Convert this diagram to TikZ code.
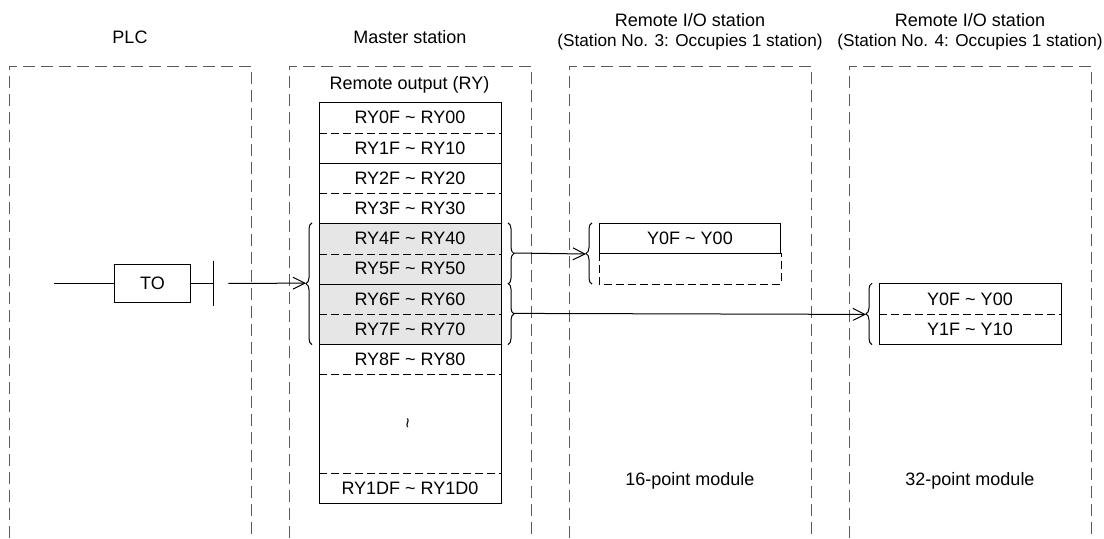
\documentclass[tikz,border=0pt]{standalone}
\usepackage{fontspec}
\setmainfont{Liberation Sans}
\usetikzlibrary{arrows.meta,decorations.pathreplacing}
\definecolor{framegray}{HTML}{5A5A5A}
\definecolor{cellgray}{HTML}{E6E6E6}
\tikzset{
  stationframe/.style={draw=framegray, dash pattern=on 6pt off 3pt},
  headtext/.style={font=\fontsize{9}{11}\selectfont, anchor=base, inner sep=0pt},
  subtext/.style={headtext, font=\fontsize{8.6}{10.5}\selectfont},
  cell/.style={minimum width=90.5pt, minimum height=15.1pt, inner sep=0pt,
               anchor=north west, font=\fontsize{9}{11}\selectfont},
  usedcell/.style={cell, fill=cellgray},
  cellsep/.style={dash pattern=on 4pt off 2pt},
  tobox/.style={draw, minimum width=37.8pt, minimum height=19pt, inner sep=0pt,
                font=\fontsize{9}{11}\selectfont},
  grpbrace/.style={decorate, decoration={brace, amplitude=3pt}},
  link/.style={-{Straight Barb[length=6pt,width=6pt]}},
}

\begin{document}
\begin{tikzpicture}[x=0.5pt, y=-0.5pt, line width=0.5pt]
  \useasboundingbox (0,0) rectangle (1104,538);

  % station frames, open at the bottom
  \draw[stationframe] (9,538) |- (251,66) -- (251,538);
  \draw[stationframe] (289,538) |- (531,66) -- (531,538);
  \draw[stationframe] (569,538) |- (811,66) -- (811,538);
  \draw[stationframe] (849,538) |- (1091,66) -- (1091,538);

  \node[headtext] (plc) at (130,43.3) {PLC};
  \node[headtext] (master) at (410,43.3) {Master station};
  \node[headtext] (st3) at (690,26.7) {Remote I/O station};
  \node[subtext] (st3no) at (690,46.7) {(Station No. 3: Occupies 1 station)};
  \node[headtext] (st4) at (970,26.7) {Remote I/O station};
  \node[subtext] (st4no) at (970,46.7) {(Station No. 4: Occupies 1 station)};

  % remote output area of the master station
  \node[headtext] (ryhead) at (409.5,89.5) {Remote output (RY)};
  \node[cell] (ry0) at (319,102) {RY0F \textasciitilde{} RY00};
  \node[cell] (ry1) at (319,132.2) {RY1F \textasciitilde{} RY10};
  \node[cell] (ry2) at (319,162.4) {RY2F \textasciitilde{} RY20};
  \node[cell] (ry3) at (319,192.6) {RY3F \textasciitilde{} RY30};
  \node[usedcell] (ry4) at (319,222.8) {RY4F \textasciitilde{} RY40};
  \node[usedcell] (ry5) at (319,253) {RY5F \textasciitilde{} RY50};
  \node[usedcell] (ry6) at (319,283.2) {RY6F \textasciitilde{} RY60};
  \node[usedcell] (ry7) at (319,313.4) {RY7F \textasciitilde{} RY70};
  \node[cell] (ry8) at (319,343.6) {RY8F \textasciitilde{} RY80};
  \node[cell, minimum height=49.25pt] (rygap) at (319,373.8) {\rotatebox{90}{\textasciitilde}};
  \node[cell] (ry1d) at (319,472.3) {RY1DF \textasciitilde{} RY1D0};
  \draw (ry0.north west) rectangle (ry1d.south east);
  \draw[cellsep] (ry0.south west) -- (ry0.south east);
  \draw (ry1.south west) -- (ry1.south east);
  \draw[cellsep] (ry2.south west) -- (ry2.south east);
  \draw (ry3.south west) -- (ry3.south east);
  \draw[cellsep] (ry4.south west) -- (ry4.south east);
  \draw (ry5.south west) -- (ry5.south east);
  \draw[cellsep] (ry6.south west) -- (ry6.south east);
  \draw (ry7.south west) -- (ry7.south east);
  \draw[cellsep] (ry8.south west) -- (ry8.south east);
  \draw[cellsep] (rygap.south west) -- (rygap.south east);

  % remote I/O modules
  \node[cell, draw] (y3a) at (599,222.8) {Y0F \textasciitilde{} Y00};
  \node[cell] (y3b) at (599,253) {};
  \draw[cellsep] (y3b.north west) -- (y3b.south west) -- (y3b.south east) -- (y3b.north east);
  \node[cell] (y4a) at (879,283.2) {Y0F \textasciitilde{} Y00};
  \node[cell] (y4b) at (879,313.4) {Y1F \textasciitilde{} Y10};
  \draw (y4a.north west) rectangle (y4b.south east);
  \draw[cellsep] (y4a.south west) -- (y4a.south east);
  \node[headtext] (mod3) at (690,485) {16-point module};
  \node[headtext] (mod4) at (970,485) {32-point module};

  % ladder: TO instruction
  \coordinate (rail) at (54,283.3);
  \node[tobox] (to) at (152.5,283.3) {TO};
  \coordinate (bus) at (213.3,283.3);
  \draw (rail) -- (to);
  \draw (to) -- (bus);
  \draw ([yshift=11.3pt]bus) -- ([yshift=-11.3pt]bus);
  \coordinate (send) at (228.3,283.3);

  % braces and transfers
  \draw[grpbrace] ([xshift=-3.5pt]ry7.south west) -- ([xshift=-3.5pt]ry4.north west);
  \coordinate (mtip) at ([xshift=-6.5pt]ry6.north west);
  \draw[link] (send) -- (mtip);
  \draw[grpbrace] ([xshift=3.5pt]ry4.north east) -- ([xshift=3.5pt]ry5.south east);
  \draw[grpbrace] ([xshift=3.5pt]ry6.north east) -- ([xshift=3.5pt]ry7.south east);
  \coordinate (out3) at ([xshift=6.5pt]ry5.north east);
  \coordinate (out4) at ([xshift=6.5pt]ry7.north east);
  \draw[grpbrace] ([xshift=-3.5pt]y3b.south west) -- ([xshift=-3.5pt]y3a.north west);
  \coordinate (in3) at ([xshift=-6.5pt]y3a.south west);
  \draw[grpbrace] ([xshift=-3.5pt]y4b.south west) -- ([xshift=-3.5pt]y4a.north west);
  \coordinate (in4) at ([xshift=-6.5pt]y4a.south west);
  \draw[link] (out3) -- (in3);
  \draw[link] (out4) -- (in4);
\end{tikzpicture}
\end{document}
